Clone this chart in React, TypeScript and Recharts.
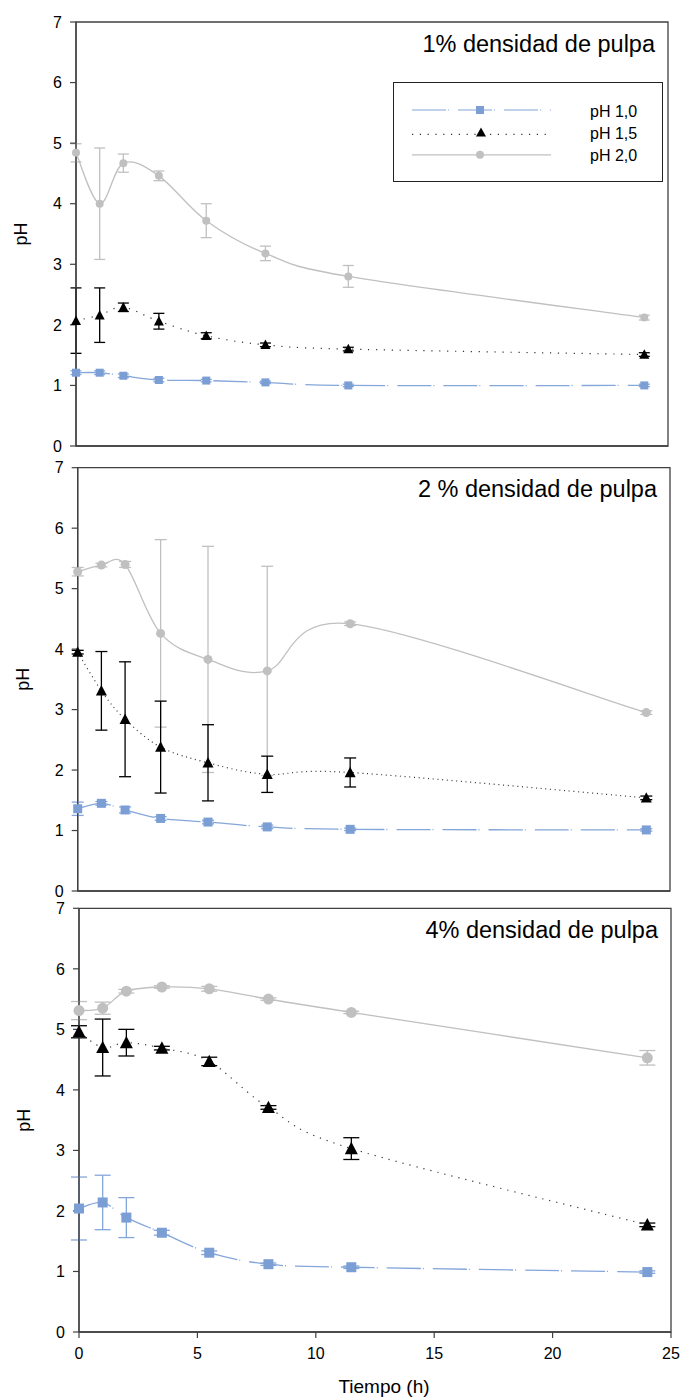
import React from 'react';
import { LineChart, Line, XAxis, YAxis, ErrorBar, ReferenceArea, Legend } from 'recharts';

// sampling times (h), shared by every panel
const TIME_H = [0, 1, 2, 3.5, 5.5, 8, 11.5, 24];
const X_TICKS = [0, 5, 10, 15, 20, 25];
const Y_TICKS = [0, 1, 2, 3, 4, 5, 6, 7];

// 1% pulp density
const D1_PH10 = [1.21, 1.21, 1.16, 1.09, 1.08, 1.05, 1.0, 1.0];
const D1_PH10_SD = [0.03, 0.03, 0.03, 0.03, 0.02, 0.02, 0.02, 0.02];
const D1_PH15 = [2.07, 2.16, 2.29, 2.06, 1.82, 1.67, 1.6, 1.51];
const D1_PH15_SD = [0.54, 0.45, 0.07, 0.13, 0.05, 0.03, 0.03, 0.03];
const D1_PH20 = [4.84, 4.0, 4.67, 4.46, 3.72, 3.18, 2.8, 2.12];
const D1_PH20_SD = [0.15, 0.92, 0.15, 0.08, 0.28, 0.12, 0.18, 0.04];

// 2% pulp density
const D2_PH10 = [1.36, 1.45, 1.34, 1.2, 1.14, 1.06, 1.02, 1.01];
const D2_PH10_SD = [0.11, 0.03, 0.05, 0.03, 0.03, 0.03, 0.02, 0.02];
const D2_PH15 = [3.95, 3.31, 2.84, 2.38, 2.12, 1.93, 1.96, 1.54];
const D2_PH15_SD = [0.03, 0.65, 0.95, 0.76, 0.63, 0.3, 0.24, 0.03];
const D2_PH20 = [5.28, 5.39, 5.4, 4.26, 3.83, 3.64, 4.42, 2.95];
const D2_PH20_SD = [0.07, 0.03, 0.05, 1.55, 1.87, 1.73, 0.03, 0.03];

// 4% pulp density
const D4_PH10 = [2.04, 2.14, 1.89, 1.64, 1.31, 1.12, 1.07, 0.99];
const D4_PH10_SD = [0.52, 0.45, 0.33, 0.04, 0.03, 0.02, 0.02, 0.02];
const D4_PH15 = [4.96, 4.7, 4.78, 4.69, 4.47, 3.71, 3.03, 1.77];
const D4_PH15_SD = [0.1, 0.47, 0.22, 0.03, 0.07, 0.03, 0.18, 0.03];
const D4_PH20 = [5.31, 5.35, 5.63, 5.7, 5.67, 5.5, 5.28, 4.53];
const D4_PH20_SD = [0.15, 0.1, 0.03, 0.02, 0.04, 0.02, 0.02, 0.12];

const SERIES_NAMES = ['pH 1,0', 'pH 1,5', 'pH 2,0'];

const BLUE = '#7b9fd4';
const BLUE_LINE = '#84a6da';
const GRAY = '#c0c0c0';
const DOTS = '#333';
const FRAME = '#404040';
const BLUE_DASH = '34 2 1 9';

// smoothed line like the spreadsheet's: cubic bezier through the points,
// tangents taken from the neighbours (catmull-rom, 1/6 handles)
function smoothCurve(context: any) {
  let pts: number[][] = [];
  return {
    areaStart() {},
    areaEnd() {},
    lineStart() {
      pts = [];
    },
    point(x: number, y: number) {
      pts.push([+x, +y]);
    },
    lineEnd() {
      const n = pts.length;
      if (!n) return;
      context.moveTo(pts[0][0], pts[0][1]);
      for (let i = 0; i < n - 1; i++) {
        const p0 = pts[Math.max(i - 1, 0)];
        const p1 = pts[i];
        const p2 = pts[i + 1];
        const p3 = pts[Math.min(i + 2, n - 1)];
        context.bezierCurveTo(
          p1[0] + (p2[0] - p0[0]) / 6,
          p1[1] + (p2[1] - p0[1]) / 6,
          p2[0] - (p3[0] - p1[0]) / 6,
          p2[1] - (p3[1] - p1[1]) / 6,
          p2[0],
          p2[1]
        );
      }
    },
  };
}

const buildRows = (a: number[], sa: number[], b: number[], sb: number[], c: number[], sc: number[]) =>
  TIME_H.map((t, i) => ({ t, ph10: a[i], sd10: sa[i], ph15: b[i], sd15: sb[i], ph20: c[i], sd20: sc[i] }));

const squareDot = (size: number) => (p: any) => (
  <rect key={`sq-${p.index}`} x={p.cx - size / 2} y={p.cy - size / 2} width={size} height={size} fill={BLUE} />
);

const triangleDot = (w: number) => (p: any) => {
  const h = w * 0.95;
  const pts = `${p.cx},${p.cy - h * 0.55} ${p.cx + w / 2},${p.cy + h * 0.45} ${p.cx - w / 2},${p.cy + h * 0.45}`;
  return <polygon key={`tr-${p.index}`} points={pts} fill="#000" />;
};

const circleDot = (r: number) => (p: any) => <circle key={`ci-${p.index}`} cx={p.cx} cy={p.cy} r={r} fill={GRAY} />;

const PhLabel = (props: any) => {
  const vb = props.viewBox || {};
  const x = (vb.x ?? 0) + (vb.width ?? 0) - 55;
  const cy = (vb.y ?? 0) + (vb.height ?? 0) / 2;
  return (
    <text x={x} y={cy} transform={`rotate(-90, ${x}, ${cy})`} textAnchor="middle" dominantBaseline="central" fontSize={18} fill="#000">
      pH
    </text>
  );
};

const LegendBox = () => {
  const rowY = (i: number) => 27 + i * 22.4;
  return (
    <div style={{ width: 270, height: 100, border: '1px solid #222', boxSizing: 'border-box', background: '#fff', position: 'relative' }}>
      <svg width={268} height={98} style={{ position: 'absolute', left: 0, top: 0 }}>
        <line x1={18} x2={157} y1={rowY(0)} y2={rowY(0)} stroke={BLUE_LINE} strokeWidth={1.2} strokeDasharray={BLUE_DASH} />
        <rect x={82} y={rowY(0) - 4} width={8} height={8} fill={BLUE} />
        <line x1={18} x2={157} y1={rowY(1) + 2} y2={rowY(1) + 2} stroke={DOTS} strokeWidth={1.2} strokeDasharray="1.2 6.6" />
        <polygon points={`87,${rowY(1) - 5} 92,${rowY(1) + 4} 82,${rowY(1) + 4}`} fill="#000" />
        <line x1={18} x2={157} y1={rowY(2)} y2={rowY(2)} stroke={GRAY} strokeWidth={1.2} />
        <circle cx={86} cy={rowY(2)} r={4} fill={GRAY} />
        {SERIES_NAMES.map((name, i) => (
          <text key={name} x={196} y={rowY(i) + 1} fontSize={16} dominantBaseline="central" fill="#000">
            {name}
          </text>
        ))}
      </svg>
    </div>
  );
};

const PANELS = [
  {
    title: '1% densidad de pulpa',
    rows: buildRows(D1_PH10, D1_PH10_SD, D1_PH15, D1_PH15_SD, D1_PH20, D1_PH20_SD),
    top: 0,
    height: 460,
    margin: { top: 22, right: 15, left: 0, bottom: 4 },
    yWidth: 76,
    xHeight: 10,
    showX: false,
    legend: true,
    sq: 8,
    r: 4,
    tri: 10,
    cap: 5.5,
    dotted: '1.2 6.7',
  },
  {
    title: '2 % densidad de pulpa',
    rows: buildRows(D2_PH10, D2_PH10_SD, D2_PH15, D2_PH15_SD, D2_PH20, D2_PH20_SD),
    top: 455,
    height: 450,
    margin: { top: 12.7, right: 13, left: 0, bottom: 4 },
    yWidth: 77.7,
    xHeight: 10,
    showX: false,
    legend: false,
    sq: 9,
    r: 4.5,
    tri: 11,
    cap: 6,
    dotted: '1 3.7',
  },
  {
    title: '4% densidad de pulpa',
    rows: buildRows(D4_PH10, D4_PH10_SD, D4_PH15, D4_PH15_SD, D4_PH20, D4_PH20_SD),
    top: 900,
    height: 499,
    margin: { top: 8.3, right: 12, left: 0, bottom: 5 },
    yWidth: 79,
    xHeight: 62,
    showX: true,
    legend: false,
    sq: 10,
    r: 5.5,
    tri: 13,
    cap: 8,
    dotted: '1.2 6',
  },
];

type PanelSpec = (typeof PANELS)[number];

function PulpPanel({ p }: { p: PanelSpec }) {
  return (
    <div style={{ position: 'absolute', left: 0, top: p.top }}>
      <LineChart width={683} height={p.height} data={p.rows} margin={p.margin}>
        <XAxis
          type="number"
          dataKey="t"
          domain={[0, 25]}
          ticks={X_TICKS}
          interval={0}
          height={p.xHeight}
          tickSize={6}
          tickMargin={10}
          axisLine={{ stroke: FRAME, strokeWidth: 1.3 }}
          tickLine={{ stroke: FRAME, strokeWidth: 1.2 }}
          tick={p.showX ? { fill: '#000', fontSize: 16 } : false}
          label={
            p.showX
              ? { value: 'Tiempo (h)', position: 'insideBottom', offset: 1, dx: 9, fontSize: 19, fill: '#000' }
              : undefined
          }
        />
        <YAxis
          type="number"
          domain={[0, 7]}
          ticks={Y_TICKS}
          interval={0}
          width={p.yWidth}
          tickSize={6}
          tickMargin={8}
          axisLine={{ stroke: FRAME, strokeWidth: 1.3 }}
          tickLine={{ stroke: FRAME, strokeWidth: 1.2 }}
          tick={{ fill: '#000', fontSize: 16 }}
          label={{ content: PhLabel }}
        />
        <ReferenceArea
          x1={0}
          x2={25}
          y1={0}
          y2={7}
          fill="none"
          stroke={FRAME}
          strokeWidth={1.3}
          label={{ value: p.title, position: 'insideTopRight', offset: 13, fontSize: 23.5, fill: '#000' }}
        />
        <Line
          dataKey="ph20"
          name={SERIES_NAMES[2]}
          type={smoothCurve as any}
          stroke={GRAY}
          strokeWidth={1.3}
          dot={circleDot(p.r)}
          activeDot={false}
          isAnimationActive={false}
        >
          <ErrorBar dataKey="sd20" direction="y" width={p.cap} stroke={GRAY} strokeWidth={1.3} />
        </Line>
        <Line
          dataKey="ph15"
          name={SERIES_NAMES[1]}
          type={smoothCurve as any}
          stroke={DOTS}
          strokeWidth={1.2}
          strokeDasharray={p.dotted}
          dot={triangleDot(p.tri)}
          activeDot={false}
          isAnimationActive={false}
        >
          <ErrorBar dataKey="sd15" direction="y" width={p.cap} stroke="#000" strokeWidth={1.3} />
        </Line>
        <Line
          dataKey="ph10"
          name={SERIES_NAMES[0]}
          type={smoothCurve as any}
          stroke={BLUE_LINE}
          strokeWidth={1.3}
          strokeDasharray={BLUE_DASH}
          dot={squareDot(p.sq)}
          activeDot={false}
          isAnimationActive={false}
        >
          <ErrorBar dataKey="sd10" direction="y" width={p.cap} stroke={BLUE_LINE} strokeWidth={1.3} />
        </Line>
        {p.legend && (
          <Legend
            layout="vertical"
            align="center"
            verticalAlign="middle"
            content={() => <LegendBox />}
            wrapperStyle={{ left: 393, top: 82, width: 270, height: 100 }}
          />
        )}
      </LineChart>
    </div>
  );
}

export default function App() {
  return (
    <div
      style={{
        position: 'absolute',
        left: 0,
        top: 0,
        width: 683,
        height: 1399,
        background: '#fff',
        fontFamily: '"Liberation Sans", Arial, sans-serif',
      }}
    >
      {PANELS.map((p) => (
        <PulpPanel key={p.title} p={p} />
      ))}
    </div>
  );
}
